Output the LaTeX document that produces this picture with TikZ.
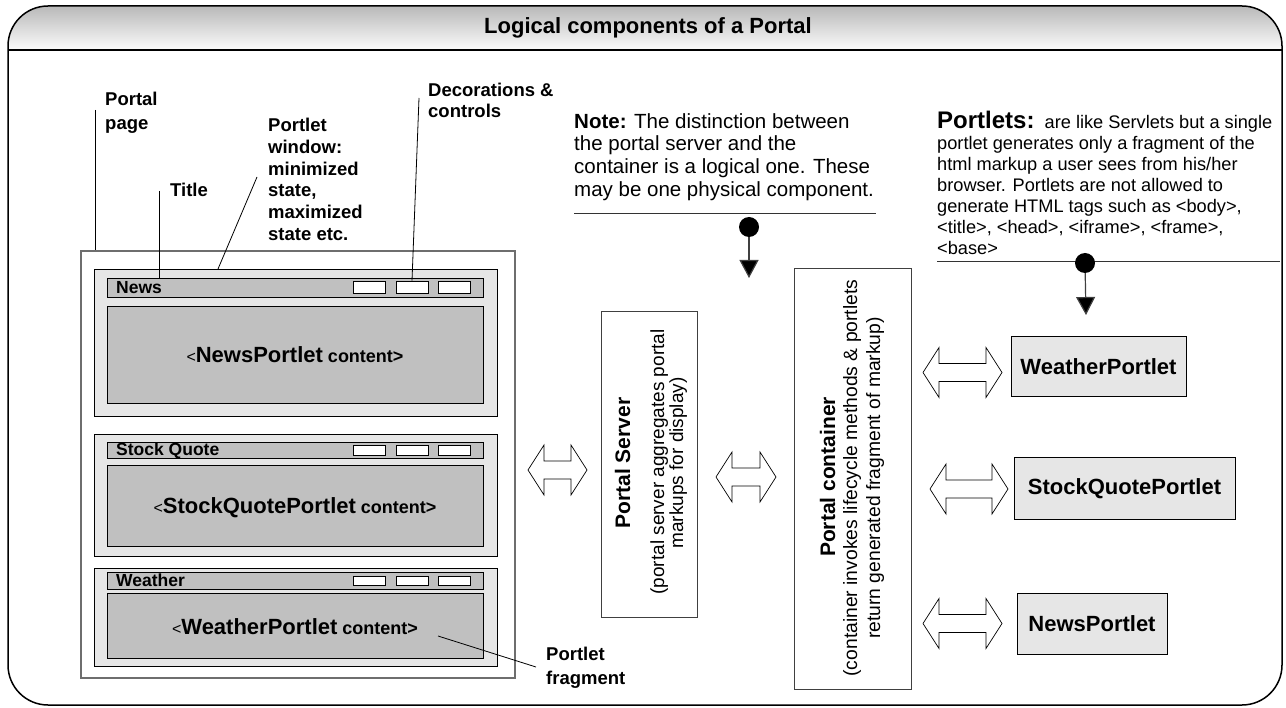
\documentclass[tikz,border=0pt]{standalone}
\usepackage{fontspec}
\setmainfont{Liberation Sans}
\usetikzlibrary{arrows.meta}
\definecolor{winbg}{HTML}{E6E6E6}
\definecolor{barfill}{HTML}{C0C0C0}
\definecolor{pageborder}{HTML}{6E6E6E}
\definecolor{boxborder}{HTML}{404040}
\newcommand\fs[2]{\fontsize{#1}{#2}\selectfont}
\newcommand\contenttext[1]{{\fs{16}{18}<}{\bfseries\fs{22}{26}#1}{\bfseries\fs{18}{20} content>}}
\begin{document}
\begin{tikzpicture}[x=1pt,y=-1pt,
  outerwin/.style={draw=black, line width=0.9pt, fill=winbg, inner sep=0pt},
  barbox/.style={draw=black, line width=0.9pt, fill=barfill, inner sep=0pt},
  btn/.style={draw=black, line width=0.8pt, fill=white, inner sep=0pt, minimum width=32pt},
  lead/.style={draw=black, line width=0.8pt},
  lbl/.style={font=\bfseries\fs{18.5}{21.7}, align=left, anchor=north west, inner sep=0pt},
  bartext/.style={font=\bfseries\fs{17.5}{20}, anchor=base west, inner sep=0pt},
  ctext/.style={anchor=base, inner sep=0pt},
  compbox/.style={draw=boxborder, line width=1pt, fill=white, inner sep=0pt},
  pbox/.style={draw=black, line width=1pt, fill=winbg, inner sep=0pt, font=\bfseries\fs{22}{26}},
  rtext/.style={rotate=90, anchor=base, inner sep=0pt},
  dot/.style={circle, fill=black, inner sep=0pt, minimum size=20pt},
  stem/.style={draw=black!75, line width=1.2pt, -{Triangle[length=18pt,width=19pt,fill=black]}},
  rule/.style={draw=black!80, line width=1pt},
  pics/dblarr/.style={code={
    \draw[line width=0.7pt, fill=white]
      (-#1,0) -- (-#1+16,-25) -- (-#1+16,-9) -- (#1-16,-9) -- (#1-16,-25) -- (#1,0)
      -- (#1-16,25) -- (#1-16,9) -- (-#1+16,9) -- (-#1+16,25) -- cycle;
  }}
]
\useasboundingbox (0,0) rectangle (1286,708);

% frame and header
\begin{scope}
  \clip[rounded corners=40pt] (8,6) rectangle (1282,705);
  \shade[top color=gray!55, bottom color=gray!3] (8,6) rectangle (1282,50);
\end{scope}
\draw[line width=1.5pt, rounded corners=40pt] (8,6) rectangle (1282,705);
\draw[line width=1.5pt] (8,50) -- (1282,50);
\node[font=\bfseries\fs{22}{25}, inner sep=0pt] (title) at (648,28) {Logical components of a Portal};

% portal page
\node[draw=pageborder, line width=1.2pt, fill=white, minimum width=434pt, minimum height=427pt, inner sep=0pt] (page) at (298,464.5) {};

% News window
\node[outerwin, minimum width=403pt, minimum height=147pt] (newsout) at (295.5,342.5) {};
\node[barbox, minimum width=376pt, minimum height=19pt] (newsbar) at (295,287.5) {};
\node[btn, minimum height=12pt] (nb1) at (369.5,287) {};
\node[btn, minimum height=12pt] (nb2) at (412,287) {};
\node[btn, minimum height=12pt] (nb3) at (454,287) {};
\node[bartext] (newst) at (116,293.8) {News};
\node[barbox, minimum width=376pt, minimum height=97pt] (newsc) at (295,354.5) {};
\node[ctext] (newsct) at (295,363) {\contenttext{NewsPortlet}};

% Stock window
\node[outerwin, minimum width=403pt, minimum height=122pt] (stockout) at (295.5,495) {};
\node[barbox, minimum width=376pt, minimum height=16pt] (stockbar) at (295,450) {};
\node[btn, minimum height=10pt] (sb1) at (369.5,450) {};
\node[btn, minimum height=10pt] (sb2) at (412,450) {};
\node[btn, minimum height=10pt] (sb3) at (454,450) {};
\node[bartext] (stockt) at (116,456) {Stock Quote};
\node[barbox, minimum width=376pt, minimum height=81pt] (stockc) at (295,505.5) {};
\node[ctext] (stockct) at (295,514) {\contenttext{StockQuotePortlet}};

% Weather window
\node[outerwin, minimum width=403pt, minimum height=98pt] (weathout) at (295.5,617) {};
\node[barbox, minimum width=376pt, minimum height=17pt] (weathbar) at (295,580.5) {};
\node[btn, minimum height=9pt] (wb1) at (369.5,580.5) {};
\node[btn, minimum height=9pt] (wb2) at (412,580.5) {};
\node[btn, minimum height=9pt] (wb3) at (454,580.5) {};
\node[bartext] (weatht) at (116,586.8) {Weather};
\node[barbox, minimum width=376pt, minimum height=65pt] (weathc) at (295,625.5) {};
\node[ctext] (weathct) at (295,634) {\contenttext{WeatherPortlet}};

% labels and leaders
\node[lbl] (lpage) at (105,92) {Portal\\[2pt]page};
\coordinate (lpA) at (95,110);
\draw[lead] (lpA) -- (lpA |- page.north);

\node[lbl] (ltitle) at (170,183) {Title};
\coordinate (ltA) at (159,191);
\draw[lead] (ltA) -- (ltA |- newsbar.north);

\node[lbl] (lwin) at (268,118) {Portlet\\window:\\minimized\\state,\\maximized\\state etc.};
\coordinate (lwA) at (257,177);
\coordinate (lwB) at (218,269);
\draw[lead] (lwA) -- (lwB);

\node[lbl, font=\bfseries\fs{18.5}{21}] (ldec) at (428,83) {Decorations \&\\controls};
\coordinate (ldA) at (419,98);
\draw[lead] (ldA) -- (nb2.north);

\node[lbl, font=\bfseries\fs{18.5}{24}] (lfrag) at (546,647) {Portlet\\fragment};
\coordinate (lfA) at (438,636);
\coordinate (lfB) at (536,667);
\draw[lead] (lfA) -- (lfB);

% Note
\node[anchor=north west, inner sep=0pt, align=left, font=\fs{20.5}{22.7}] (note) at (574,113) {{\bfseries Note:} The distinction between\\the portal server and the\\container is a logical one. These\\may be one physical component.};
\coordinate (nr1) at (574,214);
\coordinate (nr2) at (876,214);
\draw[rule] (nr1) -- (nr2);
\node[dot] (ndot) at (749,227) {};
\coordinate (ntip) at (749,278);
\draw[stem] (ndot) -- (ntip);

% Portlets note
\node[anchor=north west, inner sep=0pt, align=left, font=\fs{18.2}{21}] (pnote) at (937,111) {{\bfseries\fs{24}{21}Portlets:}\ \ are like Servlets but a single\\portlet generates only a fragment of the\\html markup a user sees from his/her\\browser. Portlets are not allowed to\\generate HTML tags such as <body>,\\<title>, <head>, <iframe>, <frame>,\\<base>};
\coordinate (pr1) at (937,262);
\coordinate (pr2) at (1280,262);
\draw[rule] (pr1) -- (pr2);
\node[dot] (pdot) at (1085,263) {};
\coordinate (ptip) at (1086,315);
\draw[stem] (pdot) -- (ptip);

% Portal server and container
\node[compbox, minimum width=96pt, minimum height=305pt] (server) at (649,464.5) {};
\node[rtext, font=\bfseries\fs{21}{24}] (serverT) at (630,463) {Portal Server};
\node[rtext, font=\fs{19}{21}] (serverL1) at (664,462) {(portal server aggregates portal};
\node[rtext, font=\fs{19}{21}] (serverL2) at (683,463) {markups for display)};

\node[compbox, minimum width=117pt, minimum height=420pt] (cont) at (852.5,479) {};
\node[rtext, font=\bfseries\fs{21}{24}] (contT) at (835,477) {Portal container};
\node[rtext, font=\fs{19.3}{21}] (contL1) at (857,478) {(container invokes lifecycle methods \& portlets};
\node[rtext, font=\fs{19.3}{21}] (contL2) at (880,478) {return generated fragment of markup)};

% portlets
\node[pbox, minimum width=175pt, minimum height=60pt] (wp) at (1098.5,367) {WeatherPortlet};
\node[pbox, minimum width=221pt, minimum height=62pt] (sp) at (1124.5,489) {StockQuotePortlet};
\node[pbox, minimum width=150pt, minimum height=61pt] (np) at (1092,623.5) {NewsPortlet};

% double arrows
\pic (arrL) at (557.5,470) {dblarr=29.5};
\pic (arrM) at (746,477) {dblarr=30};
\pic (arrW) at (962.5,372.5) {dblarr=39.5};
\pic (arrS) at (969,489) {dblarr=39};
\pic (arrN) at (962.5,623.5) {dblarr=39.5};
\end{tikzpicture}
\end{document}
